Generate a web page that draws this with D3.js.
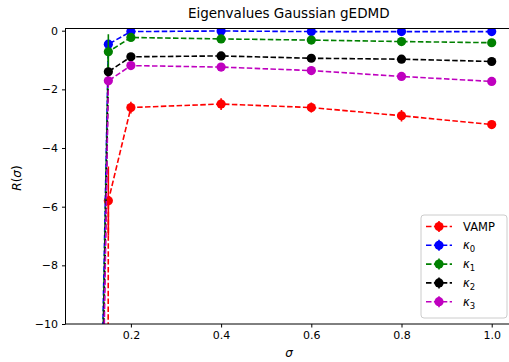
<!DOCTYPE html>
<html>
<head>
<meta charset="utf-8">
<script src="https://cdn.jsdelivr.net/npm/d3@7"></script>
<style>
  body { margin: 0; background: #fff; }
  text { font-family: "DejaVu Sans", sans-serif; }
</style>
</head>
<body>
<svg id="chart" width="509" height="362"></svg>
<script>
// sigma values and R(sigma) per series
let sigmas = [0.1, 0.15, 0.2, 0.4, 0.6, 0.8, 1.0];
let vamp = [-600, -5.8, -2.62, -2.5, -2.62, -2.9, -3.2];
let vampErr = [0, 1.17, 0.2, 0.2, 0.17, 0.2, 0.05];
let kappa0 = [-40, -0.46, -0.03, -0.01, -0.03, -0.03, -0.03];
let kappa1 = [-42, -0.72, -0.23, -0.28, -0.32, -0.37, -0.41];
let kappa1Err = [0, 0.6, 0.05, 0.05, 0.05, 0.05, 0.05];
let kappa2 = [-45, -1.4, -0.89, -0.86, -0.94, -0.97, -1.05];
let kappa3 = [-48, -1.71, -1.19, -1.24, -1.36, -1.56, -1.73];
let smallErr = [0, 0.08, 0.04, 0.04, 0.04, 0.04, 0.04];

let xTicks = [0.2, 0.4, 0.6, 0.8, 1.0];
let yTicks = [0, -2, -4, -6, -8, -10];

let series = [
  { name: 'VAMP', sub: null, color: '#ff0000', values: vamp, err: vampErr },
  { name: 'κ', sub: '0', color: '#0000ff', values: kappa0, err: smallErr },
  { name: 'κ', sub: '1', color: '#008000', values: kappa1, err: kappa1Err },
  { name: 'κ', sub: '2', color: '#000000', values: kappa2, err: smallErr },
  { name: 'κ', sub: '3', color: '#bf00bf', values: kappa3, err: smallErr }
];

let svg = d3.select('#chart');
let mLeft = 65.5, mTop = 28.5, mRight = 512, mBottom = 324;
let markR = 4.6;

let x = d3.scaleLinear().domain([0.055, 1.045]).range([mLeft, mRight]);
let y = d3.scaleLinear().domain([-10, 0.075]).range([mBottom, mTop]);

svg.append('defs').append('clipPath').attr('id', 'clip')
  .append('rect').attr('x', mLeft).attr('y', mTop)
  .attr('width', mRight - mLeft).attr('height', mBottom - mTop);

let plot = svg.append('g').attr('clip-path', 'url(#clip)');

let line = d3.line().x(d => x(d[0])).y(d => y(d[1]));

series.forEach(s => {
  let pts = sigmas.map((sg, i) => [sg, s.values[i], s.err[i]]);
  let g = plot.append('g');
  g.append('path')
    .attr('d', line(pts))
    .attr('fill', 'none')
    .attr('stroke', s.color)
    .attr('stroke-width', 1.6)
    .attr('stroke-dasharray', '5.5,2.4');
  g.selectAll('line.err').data(pts.filter(d => d[2] > 0)).enter()
    .append('line')
    .attr('x1', d => x(d[0])).attr('x2', d => x(d[0]))
    .attr('y1', d => y(d[1] - d[2])).attr('y2', d => y(d[1] + d[2]))
    .attr('stroke', s.color).attr('stroke-width', 1.6);
  g.selectAll('circle').data(pts).enter()
    .append('circle')
    .attr('cx', d => x(d[0])).attr('cy', d => y(d[1]))
    .attr('r', markR)
    .attr('fill', s.color);
});

// axes
let xAxis = svg.append('g').attr('transform', `translate(0,${mBottom})`)
  .call(d3.axisBottom(x).tickValues(xTicks).tickFormat(d3.format('.1f')).tickSize(3.5).tickPadding(4));
let yAxis = svg.append('g').attr('transform', `translate(${mLeft},0)`)
  .call(d3.axisLeft(y).tickValues(yTicks).tickFormat(d => d < 0 ? '−' + Math.abs(d) : d).tickSize(3.5).tickPadding(4));

[xAxis, yAxis].forEach(a => {
  a.selectAll('text').attr('font-size', 11).attr('fill', '#000').attr('font-family', 'DejaVu Sans');
  a.selectAll('line').attr('stroke', '#000');
  a.select('.domain').remove();
});

// spines
svg.append('rect')
  .attr('x', mLeft).attr('y', mTop)
  .attr('width', mRight - mLeft).attr('height', mBottom - mTop)
  .attr('fill', 'none').attr('stroke', '#000').attr('stroke-width', 1);

svg.append('text')
  .attr('x', (mLeft + mRight) / 2).attr('y', 18)
  .attr('text-anchor', 'middle').attr('font-size', 13.5)
  .text('Eigenvalues Gaussian gEDMD');

svg.append('text')
  .attr('x', 289).attr('y', 357)
  .attr('text-anchor', 'middle').attr('font-size', 12).attr('font-style', 'italic')
  .text('σ');

svg.append('text')
  .attr('transform', 'translate(21,178) rotate(-90)')
  .attr('text-anchor', 'middle').attr('font-size', 12)
  .html('<tspan font-style="italic">R</tspan>(<tspan font-style="italic">σ</tspan>)');

// legend
let lg = svg.append('g').attr('transform', 'translate(421,215)');
lg.append('rect')
  .attr('width', 86).attr('height', 103).attr('rx', 3)
  .attr('fill', '#fff').attr('fill-opacity', 0.8)
  .attr('stroke', '#cccccc').attr('stroke-width', 1);

let rows = lg.selectAll('g.row').data(series).enter()
  .append('g').attr('transform', (d, i) => `translate(0,${11.5 + i * 18.8})`);
rows.append('line')
  .attr('x1', 5).attr('x2', 31).attr('y1', 0).attr('y2', 0)
  .attr('stroke', d => d.color).attr('stroke-width', 1.6).attr('stroke-dasharray', '5.5,2.4');
rows.append('line')
  .attr('x1', 18).attr('x2', 18).attr('y1', -5.5).attr('y2', 5.5)
  .attr('stroke', d => d.color).attr('stroke-width', 1.6);
rows.append('circle')
  .attr('cx', 18).attr('cy', 0).attr('r', markR).attr('fill', d => d.color);
let labels = rows.append('text')
  .attr('x', 42).attr('y', 4).attr('font-size', 11.5);
labels.append('tspan')
  .attr('font-style', d => d.sub ? 'italic' : 'normal')
  .text(d => d.name);
labels.filter(d => d.sub).append('tspan')
  .attr('font-size', 8.5).attr('dy', 3)
  .text(d => d.sub);
</script>
</body>
</html>
